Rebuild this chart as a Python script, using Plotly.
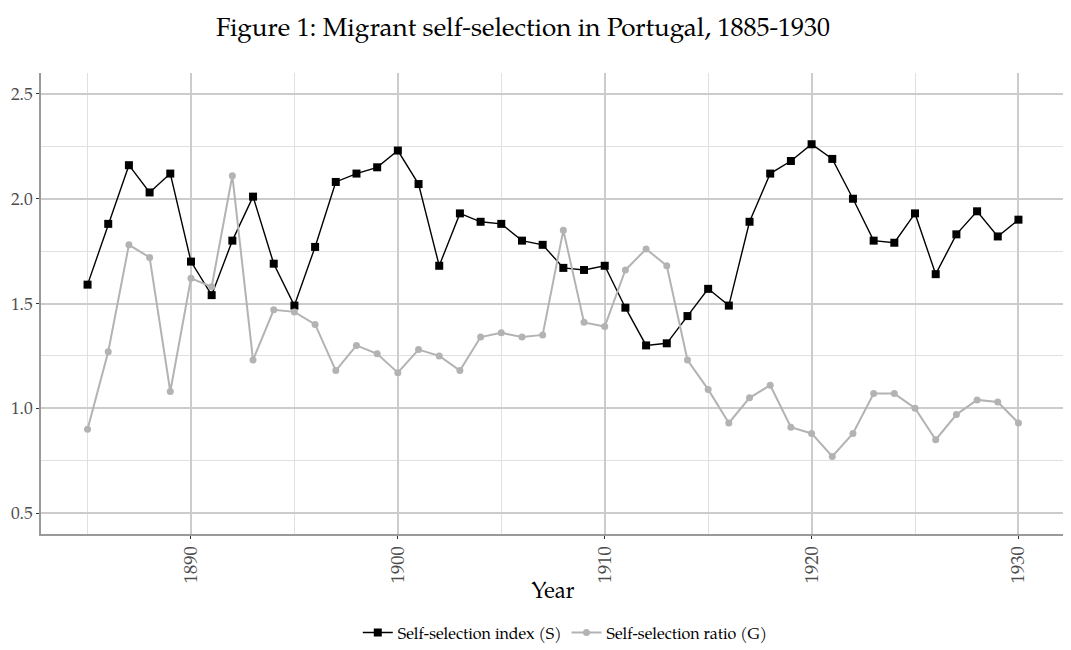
import plotly.graph_objects as go

years = list(range(1885, 1931))

index_s = [1.59, 1.88, 2.16, 2.03, 2.12, 1.70, 1.54, 1.80, 2.01, 1.69,
           1.49, 1.77, 2.08, 2.12, 2.15, 2.23, 2.07, 1.68, 1.93, 1.89,
           1.88, 1.80, 1.78, 1.67, 1.66, 1.68, 1.48, 1.30, 1.31, 1.44,
           1.57, 1.49, 1.89, 2.12, 2.18, 2.26, 2.19, 2.00, 1.80, 1.79,
           1.93, 1.64, 1.83, 1.94, 1.82, 1.90]

ratio_g = [0.90, 1.27, 1.78, 1.72, 1.08, 1.62, 1.58, 2.11, 1.23, 1.47,
           1.46, 1.40, 1.18, 1.30, 1.26, 1.17, 1.28, 1.25, 1.18, 1.34,
           1.36, 1.34, 1.35, 1.85, 1.41, 1.39, 1.66, 1.76, 1.68, 1.23,
           1.09, 0.93, 1.05, 1.11, 0.91, 0.88, 0.77, 0.88, 1.07, 1.07,
           1.00, 0.85, 0.97, 1.04, 1.03, 0.93]

serif = "Palatino, 'Palatino Linotype', 'Book Antiqua', 'TeX Gyre Pagella', 'Liberation Serif', serif"

fig = go.Figure()

fig.add_trace(go.Scatter(
    x=years, y=index_s, mode="lines+markers",
    name="Self-selection index (S)",
    line=dict(color="black", width=1.4),
    marker=dict(symbol="square", size=8, color="black"),
))

fig.add_trace(go.Scatter(
    x=years, y=ratio_g, mode="lines+markers",
    name="Self-selection ratio (G)",
    line=dict(color="#b3b3b3", width=2),
    marker=dict(symbol="circle", size=7, color="#b3b3b3"),
))

# reference line at 1
fig.add_hline(y=1, line=dict(color="black", width=1), layer="below")

# page body has an 8px margin, so the figure is a bit smaller than the window
fig.update_layout(
    width=1063, height=642,
    paper_bgcolor="white", plot_bgcolor="white",
    margin=dict(l=33, r=6, t=65, b=116),
    font=dict(family=serif, color="#4d4d4d", size=17),
    title=dict(
        text="Figure 1: Migrant self-selection in Portugal, 1885-1930",
        x=0.4845, xanchor="center", y=0.97, yanchor="middle",
        font=dict(family=serif, size=26, color="black"),
    ),
    legend=dict(
        orientation="h", x=0.512, xanchor="center",
        yref="container", y=0.027, yanchor="middle",
        font=dict(family=serif, size=16, color="black"),
        itemwidth=30, tracegroupgap=0,
    ),
    showlegend=True,
)

fig.update_xaxes(
    range=[1882.75, 1932.25], automargin=False,
    tickmode="array", tickvals=[1890, 1900, 1910, 1920, 1930],
    tickangle=-90, ticks="outside", ticklen=3, tickcolor="#333333",
    tickfont=dict(size=18.5),
    showgrid=True, gridcolor="#cccccc", gridwidth=1.5,
    minor=dict(tickvals=[1885, 1895, 1905, 1915, 1925],
               showgrid=True, gridcolor="#e0e0e0", gridwidth=1.2),
    showline=True, linecolor="#999999", linewidth=1.5,
    zeroline=False,
    title=dict(text="Year", font=dict(family=serif, size=22, color="black"),
               standoff=0),
)

fig.update_yaxes(
    range=[0.4, 2.6], automargin=False,
    tickmode="array", tickvals=[0.5, 1.0, 1.5, 2.0, 2.5],
    ticktext=["0.5", "1.0", "1.5", "2.0", "2.5"],
    ticks="outside", ticklen=3, tickcolor="#333333",
    tickfont=dict(size=17.5),
    showgrid=True, gridcolor="#cccccc", gridwidth=1.5,
    minor=dict(tickvals=[0.75, 1.25, 1.75, 2.25],
               showgrid=True, gridcolor="#e0e0e0", gridwidth=1.2),
    showline=True, linecolor="#999999", linewidth=1.5,
    zeroline=False,
)

fig.write_html("out.html")
